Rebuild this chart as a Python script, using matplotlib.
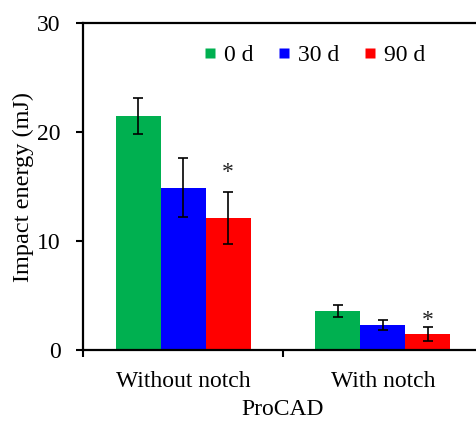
import matplotlib
matplotlib.use("Agg")
import matplotlib.pyplot as plt
import numpy as np
from matplotlib.lines import Line2D

categories = ["Without notch", "With notch"]
series = ["0 d", "30 d", "90 d"]
values = {
    "0 d": [21.5, 3.6],
    "30 d": [14.9, 2.3],
    "90 d": [12.1, 1.45],
}
errors = {
    "0 d": [1.65, 0.55],
    "30 d": [2.7, 0.48],
    "90 d": [2.4, 0.65],
}
colors = {"0 d": "#00B050", "30 d": "#0000FF", "90 d": "#FF0000"}
star_series = "90 d"
star_y = [16.3, 2.7]

plt.rcParams['font.family'] = ['Liberation Serif', 'DejaVu Serif']

fig = plt.figure(figsize=(4.77, 4.21), dpi=100)
ax = fig.add_axes([83/477, 1-350/421, 400/477, 327/421])

x = np.arange(len(categories)) + 0.5
w = 0.225
for i, s in enumerate(series):
    xs = x + (i - 1) * w
    ax.bar(xs, values[s], width=w, color=colors[s], edgecolor='none', zorder=2)
    ax.errorbar(xs, values[s], yerr=errors[s], fmt='none', ecolor='black',
                elinewidth=1.2, capsize=3.5, capthick=1.2, zorder=3)
    if s == star_series:
        for xi, sy in zip(xs, star_y):
            ax.text(xi, sy, "*", ha='center', va='center', fontsize=17, color='#222222')

ax.set_xlim(0, 2)
ax.set_ylim(0, 30)
ax.set_yticks([0, 10, 20, 30])
ax.tick_params(axis='y', labelsize=17, direction='out', length=5, width=1.5, pad=11)
ax.set_xticks([0, 1, 2])
ax.set_xticklabels([])
ax.tick_params(axis='x', which='major', direction='out', length=5, width=1.5)
ax.set_xticks(x, minor=True)
ax.set_xticklabels(categories, minor=True)
ax.tick_params(axis='x', which='minor', length=0, labelsize=17, pad=15)
ax.set_xlabel("ProCAD", fontsize=17, labelpad=5)
ax.set_ylabel("Impact energy (mJ)", fontsize=17.5, labelpad=2)

for sp in ['left', 'bottom', 'top']:
    ax.spines[sp].set_linewidth(1.6)
ax.spines['right'].set_visible(False)

handles = [Line2D([], [], marker='s', linestyle='none', markersize=6.5,
                  markerfacecolor=colors[s], markeredgecolor='none') for s in series]
ax.legend(handles, series, ncol=3, frameon=False, fontsize=17,
          loc='upper left', bbox_to_anchor=(0.24, 1.0),
          handletextpad=0.2, columnspacing=0.9, handlelength=0.8)

fig.savefig("out.png", dpi=100)
